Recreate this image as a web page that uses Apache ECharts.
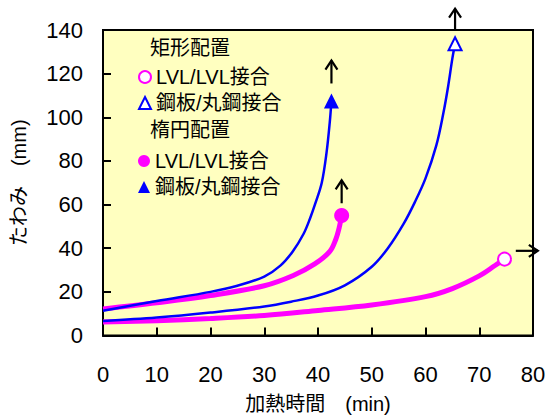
<!DOCTYPE html>
<html>
<head>
<meta charset="utf-8">
<script src="https://cdn.jsdelivr.net/npm/echarts@6/dist/echarts.min.js"></script>
<style>html,body{margin:0;padding:0;background:#fff}#c{width:549px;height:417px}</style>
</head>
<body>
<div id="c"></div>
<script>
// --- data (time in min, deflection in mm) ---
const rectLVL_t = [0, 10, 20, 30, 40, 50, 60, 65, 70, 73, 74.7];
const rectLVL_v = [6.2, 6.8, 7.8, 9.2, 11.5, 14, 17.8, 21.5, 27.3, 32.2, 35];
const rectSteel_t = [0, 10, 20, 30, 35, 40, 45, 50, 53, 56, 58, 60, 62, 63.3, 64.2, 65, 65.5];
const rectSteel_v = [6.6, 8.2, 10.5, 13.3, 15.5, 18.3, 23, 31.5, 40, 51.5, 61, 72, 87, 101.6, 114, 127, 133.7];
const ellLVL_t = [0, 10, 20, 30, 35.4, 39.4, 42.2, 43.3, 44, 44.4];
const ellLVL_v = [12.2, 15, 18.3, 22.8, 27.5, 32.8, 38.5, 44, 50, 55];
const ellSteel_t = [0, 10, 20, 25, 30, 33, 35.3, 37.3, 38.5, 39.5, 40.7, 41.6, 42.2, 42.5];
const ellSteel_v = [11.3, 15.8, 20, 22.8, 27, 32, 38.5, 46.5, 53.5, 60.5, 70, 84, 98, 107.5];
// arrows: [x1, y1, x2, y2]
const arrows = [[42.5, 115.5, 42.5, 126], [44.4, 60.6, 44.4, 71.1], [65.5, 139.7, 65.5, 149.8], [76.8, 38.8, 80.9, 38.8]];
const xTicks = { min: 0, max: 80, interval: 10 };
const yTicks = { min: 0, max: 140, interval: 20 };
const legendLabels = { rectLVL: 'LVL/LVL接合', rectSteel: '鋼板/丸鋼接合', ellLVL: 'LVL/LVL接合', ellSteel: '鋼板/丸鋼接合' };
const headers = ['矩形配置', '楕円配置'];

const MAG = '#FF00FF', BLUE = '#0000FF';
const FONT = '"Liberation Sans", Arial, "Noto Sans CJK JP", sans-serif';

function build(ts, vs, endSymbol) {
  return ts.map((t, i) => i === ts.length - 1
    ? Object.assign({ value: [t, vs[i]] }, endSymbol)
    : { value: [t, vs[i]], symbol: 'none' });
}

const chart = echarts.init(document.getElementById('c'), null, { renderer: 'svg' });
const option = {
  animation: false,
  grid: { left: 103, right: 16, top: 30, bottom: 81.5, outerBoundsMode: 'none', containLabel: false, show: true, backgroundColor: '#FFFFC0', borderColor: '#000', borderWidth: 2 },
  xAxis: {
    type: 'value', min: xTicks.min, max: xTicks.max, interval: xTicks.interval,
    name: '加熱時間　(min)', nameLocation: 'middle', nameGap: 58,
    nameTextStyle: { fontSize: 20, color: '#000', fontFamily: FONT },
    axisLine: { show: true, lineStyle: { color: '#000', width: 2 } },
    axisTick: { show: true, inside: true, length: 8, lineStyle: { color: '#000', width: 2 } },
    axisLabel: { fontSize: 22, color: '#000', margin: 28, fontFamily: FONT },
    splitLine: { show: false }
  },
  yAxis: {
    type: 'value', min: yTicks.min, max: yTicks.max, interval: yTicks.interval,
    name: 'たわみ　(mm)', nameLocation: 'middle', nameGap: 74, nameRotate: 90,
    nameTextStyle: { fontSize: 20, color: '#000', fontFamily: FONT },
    axisLine: { show: true, lineStyle: { color: '#000', width: 2 } },
    axisTick: { show: true, inside: true, length: 8, lineStyle: { color: '#000', width: 2 } },
    axisLabel: { fontSize: 22, color: '#000', margin: 20, fontFamily: FONT },
    splitLine: { show: false }
  },
  legend: [
    {
      orient: 'vertical', left: 133, top: 62, itemWidth: 12, itemHeight: 12, itemGap: 6,
      textStyle: { fontSize: 20, color: '#000', fontFamily: FONT, lineHeight: 20 },
      formatter: n => legendLabels[n],
      data: [
        { name: 'rectLVL', icon: 'circle', itemStyle: { color: '#fff', borderColor: MAG, borderWidth: 2 } },
        { name: 'rectSteel', icon: 'triangle', itemStyle: { color: '#fff', borderColor: BLUE, borderWidth: 2 } }
      ]
    },
    {
      orient: 'vertical', left: 133, top: 146, itemWidth: 12, itemHeight: 12, itemGap: 6,
      textStyle: { fontSize: 20, color: '#000', fontFamily: FONT, lineHeight: 20 },
      formatter: n => legendLabels[n],
      data: [
        { name: 'ellLVL', icon: 'circle', itemStyle: { color: MAG, borderWidth: 0 } },
        { name: 'ellSteel', icon: 'triangle', itemStyle: { color: BLUE, borderWidth: 0 } }
      ]
    }
  ],
  graphic: [
    { type: 'text', left: 150, top: 38, style: { text: headers[0], font: '20px ' + FONT, fill: '#000' } },
    { type: 'text', left: 150, top: 120, style: { text: headers[1], font: '20px ' + FONT, fill: '#000' } }
  ],
  series: [
    {
      name: 'rectLVL', type: 'line', smooth: 0.35, symbol: 'none', z: 3,
      lineStyle: { color: MAG, width: 5 }, itemStyle: { color: MAG },
      data: build(rectLVL_t, rectLVL_v, { symbol: 'circle', symbolSize: 13, itemStyle: { color: '#fff', borderColor: MAG, borderWidth: 2 } })
    },
    {
      name: 'rectSteel', type: 'line', smooth: 0.35, symbol: 'none', z: 4,
      lineStyle: { color: BLUE, width: 2.5 }, itemStyle: { color: BLUE },
      data: build(rectSteel_t, rectSteel_v, { symbol: 'triangle', symbolSize: 13, itemStyle: { color: '#fff', borderColor: BLUE, borderWidth: 2 } })
    },
    {
      name: 'ellLVL', type: 'line', smooth: 0.35, symbol: 'none', z: 3,
      lineStyle: { color: MAG, width: 5 }, itemStyle: { color: MAG },
      data: build(ellLVL_t, ellLVL_v, { symbol: 'circle', symbolSize: 15, itemStyle: { color: MAG, borderWidth: 0 } })
    },
    {
      name: 'ellSteel', type: 'line', smooth: 0.35, symbol: 'none', z: 4,
      lineStyle: { color: BLUE, width: 2.5 }, itemStyle: { color: BLUE },
      data: build(ellSteel_t, ellSteel_v, { symbol: 'triangle', symbolSize: 15, itemStyle: { color: BLUE, borderWidth: 0 } })
    },
    {
      type: 'custom', clip: false, silent: true, z: 5,
      data: arrows,
      renderItem: function (params, api) {
        const p1 = api.coord([api.value(0), api.value(1)]);
        const p2 = api.coord([api.value(2), api.value(3)]);
        const dx = p2[0] - p1[0], dy = p2[1] - p1[1];
        const len = Math.sqrt(dx * dx + dy * dy) || 1;
        const ux = dx / len, uy = dy / len;
        const hl = 9, hw = 6;
        const b1 = [p2[0] - ux * hl - uy * hw, p2[1] - uy * hl + ux * hw];
        const b2 = [p2[0] - ux * hl + uy * hw, p2[1] - uy * hl - ux * hw];
        return {
          type: 'group',
          children: [
            { type: 'line', shape: { x1: p1[0], y1: p1[1], x2: p2[0], y2: p2[1] }, style: { stroke: '#000', lineWidth: 2.2 } },
            { type: 'polyline', shape: { points: [b1, p2, b2] }, style: { stroke: '#000', lineWidth: 2.2, fill: 'none' } }
          ]
        };
      }
    }
  ]
};
chart.setOption(option);
</script>
</body>
</html>
